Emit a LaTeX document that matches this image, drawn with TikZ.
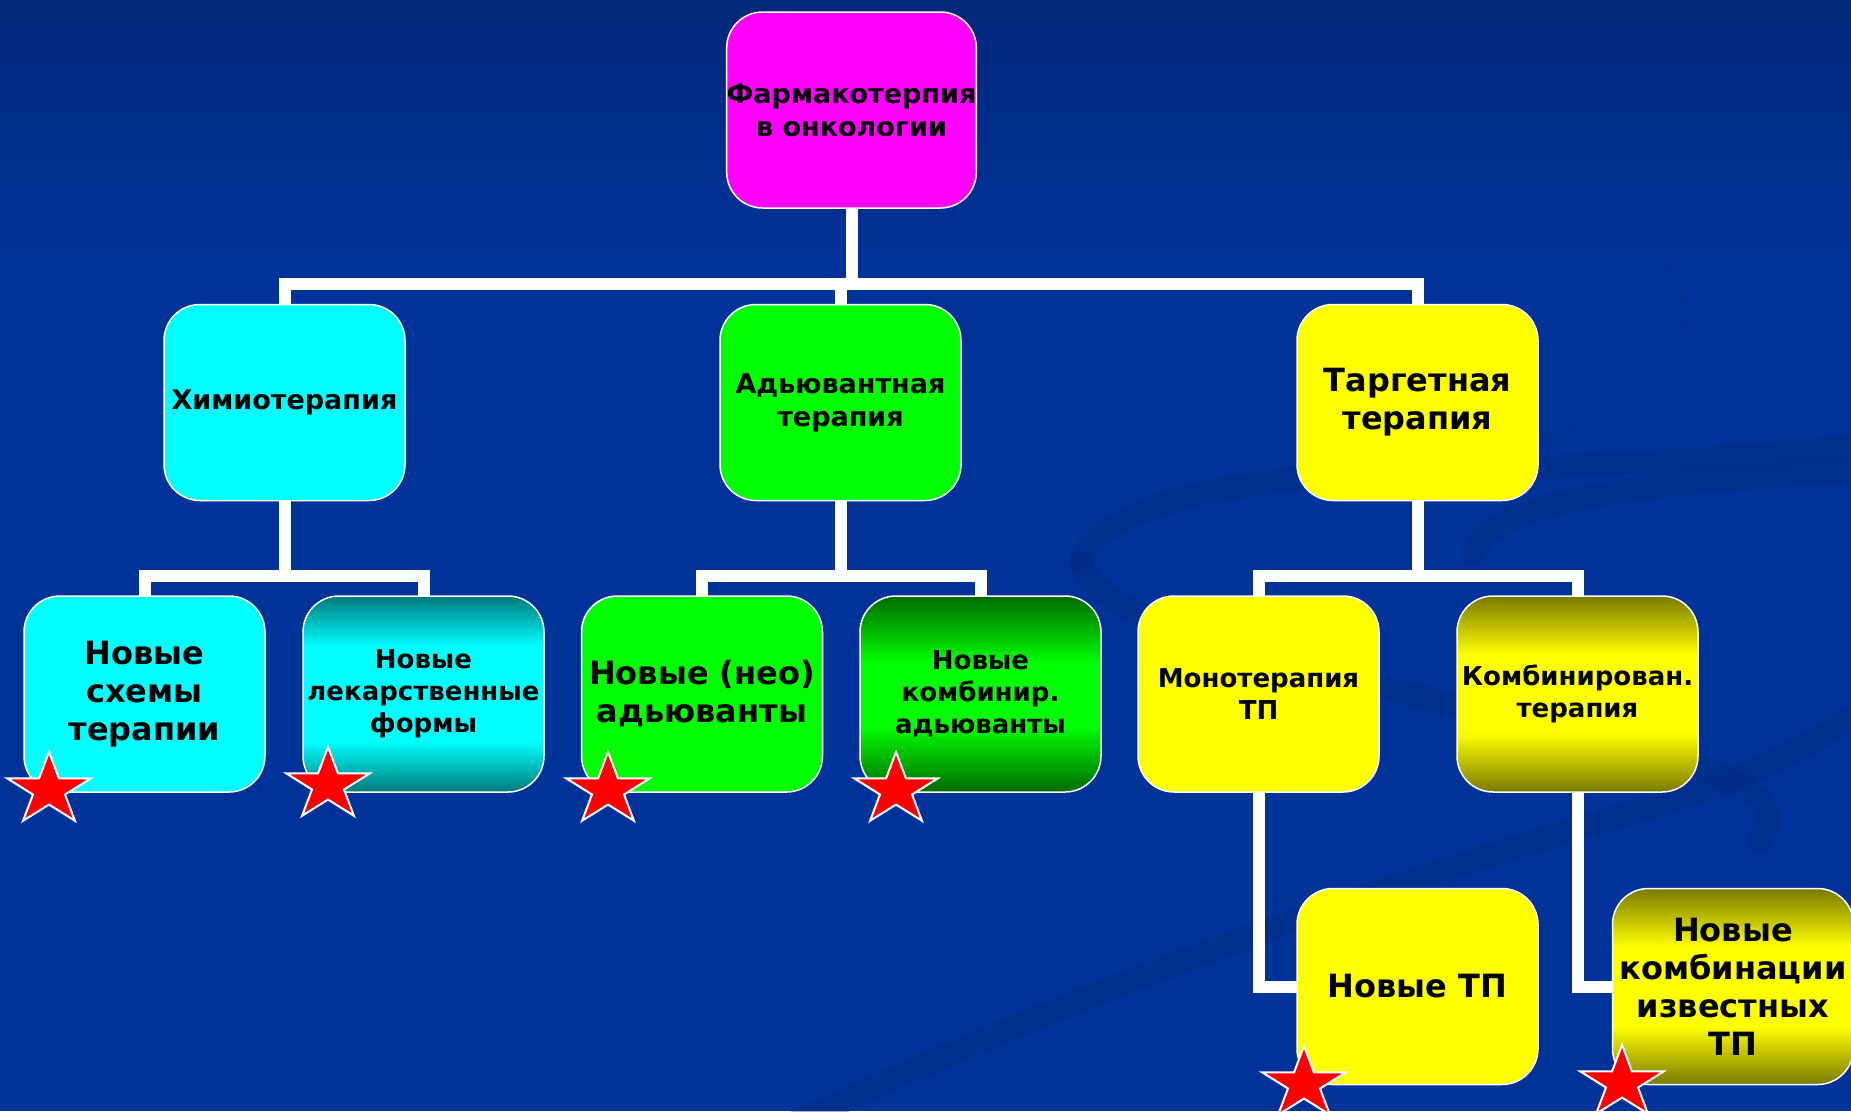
\documentclass[tikz,border=0pt]{standalone}
\usepackage{fontspec}
\setmainfont{DejaVu Sans}
\usetikzlibrary{shapes.geometric}
\definecolor{bgtop}{HTML}{00287A}
\definecolor{bgmain}{HTML}{003399}
\definecolor{swirl}{HTML}{00297C}
\definecolor{cmag}{HTML}{FF00FF}
\definecolor{ccyan}{HTML}{00FFFF}
\definecolor{cgreen}{HTML}{00FF00}
\definecolor{cyell}{HTML}{FFFF00}
\definecolor{cred}{HTML}{FF0000}
\definecolor{tealc}{HTML}{007A7A}
\definecolor{dgreen}{HTML}{006A00}
\definecolor{olivec}{HTML}{7A7A00}
\pgfdeclareverticalshading{tealband}{100bp}{color(0bp)=(tealc); color(25bp)=(tealc); color(38bp)=(ccyan); color(62bp)=(ccyan); color(75bp)=(tealc); color(100bp)=(tealc)}
\pgfdeclareverticalshading{greenband}{100bp}{color(0bp)=(dgreen); color(25bp)=(dgreen); color(42bp)=(cgreen); color(58bp)=(cgreen); color(75bp)=(dgreen); color(100bp)=(dgreen)}
\pgfdeclareverticalshading{oliveband}{100bp}{color(0bp)=(olivec); color(25bp)=(olivec); color(40bp)=(cyell); color(60bp)=(cyell); color(75bp)=(olivec); color(100bp)=(olivec)}
\pgfdeclarelayer{bg}
\pgfsetlayers{bg,main}
\begin{document}
\begin{tikzpicture}[x=1pt,y=-1pt,
  box/.style={draw=white, line width=1.5pt, rounded corners=36pt, minimum width=241pt, minimum height=196pt, inner sep=0pt, align=center, text=black},
  fsmall/.style={font=\fontsize{26}{32}\selectfont\bfseries},
  fmid/.style={font=\fontsize{27}{33}\selectfont\bfseries},
  fbig/.style={font=\fontsize{32}{38}\selectfont\bfseries},
  conn/.style={draw=white, line width=12pt, line cap=rect, line join=miter},
  starmark/.style={star, star points=5, star point ratio=2.618, minimum size=76pt, inner sep=0pt, fill=cred, draw=white, line width=2pt},
  swirlline/.style={draw=swirl, line width=24pt, opacity=0.35, line cap=round}]
\useasboundingbox (0,0) rectangle (1851,1111);

% level 1
\node[box, fill=cmag, fmid] (root) at (851.5,110) {Фармакотерпия\\в онкологии};
% level 2
\node[box, fill=ccyan, fmid] (chemo) at (284.5,402.5) {Химиотерапия};
\node[box, fill=cgreen, fmid] (adj) at (840.5,402.5) {Адьювантная\\терапия};
\node[box, fill=cyell, fbig] (targ) at (1417.5,402.5) {Таргетная\\терапия};
% level 3
\node[box, fill=ccyan, fbig] (n1) at (144.5,694) {Новые\\схемы\\терапии};
\node[box, shade, shading=tealband, fsmall] (n2) at (423.5,694) {Новые\\лекарственные\\формы};
\node[box, fill=cgreen, fbig] (n3) at (702,694) {Новые (нео)\\адьюванты};
\node[box, shade, shading=greenband, fsmall] (n4) at (980.5,694) {Новые\\комбинир.\\адьюванты};
\node[box, fill=cyell, fsmall] (mono) at (1258.5,694) {Монотерапия\\ТП};
\node[box, shade, shading=oliveband, fsmall] (comb) at (1577.5,694) {Комбинирован.\\терапия};
% level 4
\node[box, fill=cyell, fbig] (ntp) at (1417.5,986.5) {Новые ТП};
\node[box, shade, shading=oliveband, fbig] (nkomb) at (1733,986.5) {Новые\\комбинации\\известных\\ТП};

% stars
\foreach \n/\x/\y in {s1/49/790, s2/328/785, s3/608/790, s4/896/790, s5/1304/1084, s6/1622/1083}{
  \begin{scope}[shift={(\x,\y)}, xscale=1.16]
    \node[starmark, transform shape] (\n) at (0,0) {};
  \end{scope}
}

\begin{pgfonlayer}{bg}
  \fill[bgmain] (0,0) rectangle (1851,1111);
  \shade[top color=bgtop, bottom color=bgmain] (0,0) rectangle (1851,270);
  % background swirls
  \draw[swirlline] (1081,563) .. controls (1100,500) and (1250,475) .. (1450,470) .. controls (1650,465) and (1760,455) .. (1880,445);
  \draw[swirlline] (1081,563) .. controls (1090,620) and (1300,670) .. (1500,715) .. controls (1700,760) and (1800,790) .. (1760,840);
  \draw[swirlline] (1474,553) .. controls (1490,500) and (1650,480) .. (1880,470);
  \draw[swirlline] (780,1130) .. controls (1100,980) and (1400,880) .. (1640,810) .. controls (1750,780) and (1820,740) .. (1880,700);
  \draw[swirlline, line width=8pt, opacity=0.2] (1663,263) .. controls (1700,300) and (1690,350) .. (1640,390) .. controls (1610,415) and (1570,430) .. (1540,440);
  % connectors
  \coordinate (j1) at (851.5,284);
  \coordinate (y3) at (0,576);
  \draw[conn] (root.south) -- (j1);
  \draw[conn] (chemo.north) |- (j1) -| (targ.north);
  \draw[conn] (adj.north) -- (adj.north |- j1);
  \draw[conn] (chemo.south) -- (chemo.south |- y3);
  \draw[conn] (n1.north) |- (y3 -| chemo.south) -| (n2.north);
  \draw[conn] (adj.south) -- (adj.south |- y3);
  \draw[conn] (n3.north) |- (y3 -| adj.south) -| (n4.north);
  \draw[conn] (targ.south) -- (targ.south |- y3);
  \draw[conn] (mono.north) |- (y3 -| targ.south) -| (comb.north);
  \draw[conn] (mono.south) |- (ntp.west);
  \draw[conn] (comb.south) |- (nkomb.west);
\end{pgfonlayer}
\end{tikzpicture}
\end{document}
